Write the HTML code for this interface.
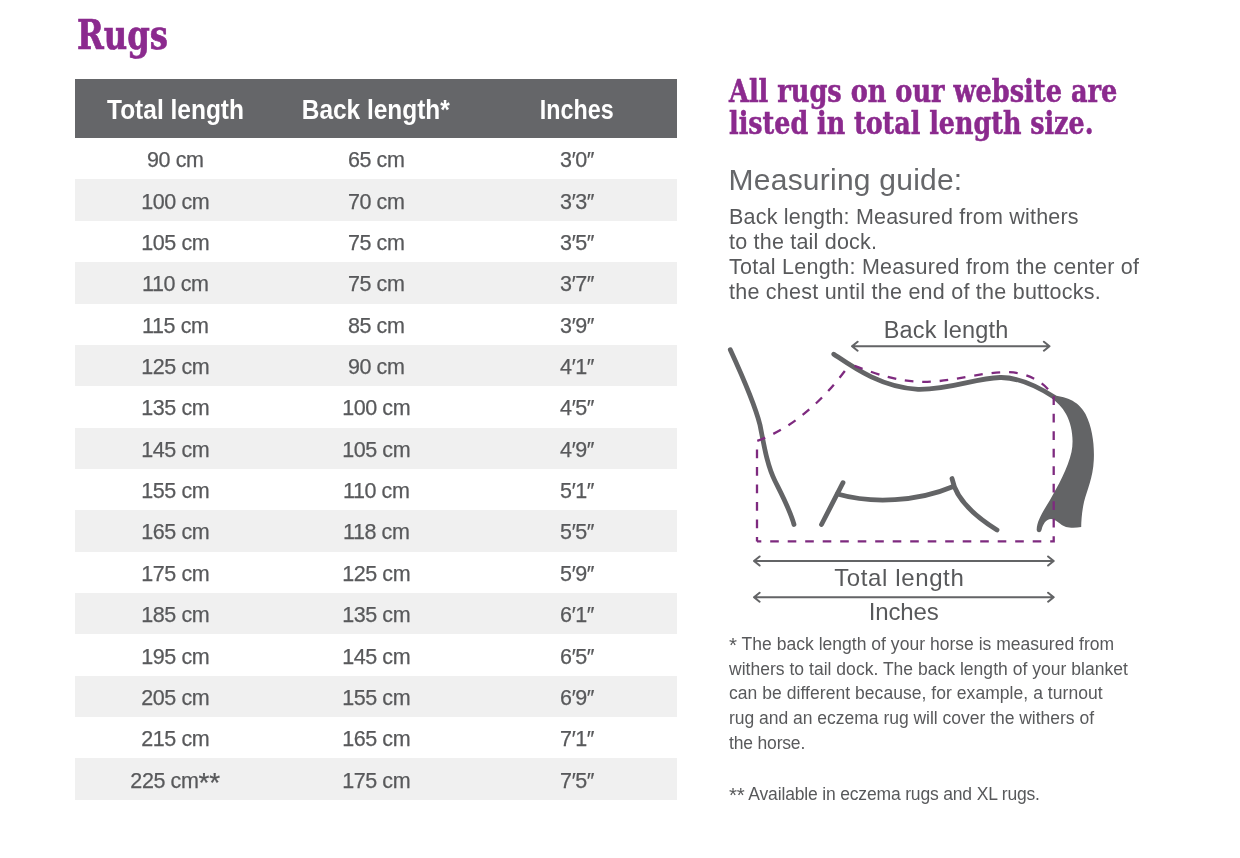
<!DOCTYPE html>
<html lang="en">
<head>
<meta charset="utf-8">
<title>Rugs size chart</title>
<style>
html,body{margin:0;padding:0;background:#fff;}
body{width:1240px;height:858px;position:relative;overflow:hidden;font-family:'Liberation Sans', sans-serif;color:#58595b;}
h1,h2,h3,p{margin:0;font-weight:normal;}
.t{position:absolute;white-space:nowrap;transform-origin:0 50%;display:block;}
.h1{font:bold 41.6px/48px 'DejaVu Serif Condensed', 'DejaVu Serif', 'Liberation Serif', serif;color:#8b2a8e;-webkit-text-stroke:0.7px #8b2a8e;}
.h2{font:bold 31.5px/32px 'DejaVu Serif Condensed', 'DejaVu Serif', 'Liberation Serif', serif;color:#8b2a8e;-webkit-text-stroke:0.5px #8b2a8e;}
.h3{font:normal 30px/34px 'Liberation Sans', sans-serif;color:#66676a;}
.p{font:normal 21.5px/25px 'Liberation Sans', sans-serif;}
.fn{font:normal 17.5px/25px 'Liberation Sans', sans-serif;}
.ast-fn{font-size:20.5px;vertical-align:-2px;}
.ast-td{font-size:28px;vertical-align:-3.8px;letter-spacing:0;}
table.sizes{position:absolute;left:75.4px;top:78.8px;width:601.6px;border-collapse:collapse;border-spacing:0;table-layout:fixed;}
.sizes th,.sizes td{padding:0;text-align:center;vertical-align:top;white-space:nowrap;border:0;}
.sizes thead tr{height:59.3px;background:#656669;}
.sizes th{font:bold 27px/30px 'Liberation Sans', sans-serif;color:#fff;padding-top:16.1px;}
.sizes th span{display:inline-block;}
.sizes tbody tr{height:41.37px;}
.sizes tbody tr:nth-child(even){background:#f0f0f0;}
.sizes td{font:normal 21.5px/24px 'Liberation Sans', sans-serif;letter-spacing:-0.4px;padding-top:10.1px;-webkit-text-stroke:0.25px #58595b;}
.diagram{position:absolute;left:720px;top:310px;}
</style>
</head>
<body>
<h1 class="t h1" style="left:76.80px;top:11.20px;transform:scaleX(0.8623);">Rugs</h1>
<table class="sizes">
<colgroup><col style="width:199.8px"><col style="width:202px"><col style="width:199.8px"></colgroup>
<thead>
<tr>
<th><span style="transform:scaleX(0.9074)">Total length</span></th>
<th><span style="transform:scaleX(0.9049)">Back length*</span></th>
<th><span style="transform:scaleX(0.8627)">Inches</span></th>
</tr>
</thead>
<tbody>
<tr><td>90 cm</td><td>65 cm</td><td>3′0″</td></tr>
<tr><td>100 cm</td><td>70 cm</td><td>3′3″</td></tr>
<tr><td>105 cm</td><td>75 cm</td><td>3′5″</td></tr>
<tr><td>110 cm</td><td>75 cm</td><td>3′7″</td></tr>
<tr><td>115 cm</td><td>85 cm</td><td>3′9″</td></tr>
<tr><td>125 cm</td><td>90 cm</td><td>4′1″</td></tr>
<tr><td>135 cm</td><td>100 cm</td><td>4′5″</td></tr>
<tr><td>145 cm</td><td>105 cm</td><td>4′9″</td></tr>
<tr><td>155 cm</td><td>110 cm</td><td>5′1″</td></tr>
<tr><td>165 cm</td><td>118 cm</td><td>5′5″</td></tr>
<tr><td>175 cm</td><td>125 cm</td><td>5′9″</td></tr>
<tr><td>185 cm</td><td>135 cm</td><td>6′1″</td></tr>
<tr><td>195 cm</td><td>145 cm</td><td>6′5″</td></tr>
<tr><td>205 cm</td><td>155 cm</td><td>6′9″</td></tr>
<tr><td>215 cm</td><td>165 cm</td><td>7′1″</td></tr>
<tr><td>225 cm<span class="ast-td">**</span></td><td>175 cm</td><td>7′5″</td></tr>
</tbody>
</table>
<h2 class="h2"><span class="t" style="left:729.00px;top:74.50px;transform:scaleX(0.9041);">All rugs on our website are</span><span class="t" style="left:729.00px;top:106.90px;transform:scaleX(0.8955);">listed in total length size.</span></h2>
<h3 class="t h3" style="left:728.60px;top:162.90px;letter-spacing:0.230px;">Measuring guide:</h3>
<p class="p"><span class="t" style="left:729.00px;top:204.70px;letter-spacing:0.201px;">Back length: Measured from withers</span><span class="t" style="left:729.00px;top:229.80px;letter-spacing:0.211px;">to the tail dock.</span><span class="t" style="left:729.00px;top:254.90px;letter-spacing:0.271px;">Total Length: Measured from the center of</span><span class="t" style="left:729.00px;top:280.00px;letter-spacing:0.245px;">the chest until the end of the buttocks.</span></p>
<svg class="diagram" width="400" height="325" viewBox="720 310 400 325">
<g fill="none" stroke="#636466" stroke-width="4.8" stroke-linecap="round" stroke-linejoin="round">
<path d="M730.3,349.8 C740.5,372 755,405 760,425 C764,445 767,465 775,481 C783,497 790,510 794,524.5"/>
<path d="M843,482.7 L821.5,524.5"/>
<path d="M837.5,494 C872,504 918,501.5 952.6,486.8"/>
<path d="M952,478.5 C955,495 968,512 997,530"/>
<path d="M833.8,354.2 C850,365 880,387.5 918,389.3 C950,390 975,378 1000,377.5 C1020,377 1040,388 1054,397"/>
</g>
<path fill="#636466" d="M1052,395.5 C1064,396 1078,400 1085.5,414 C1092.5,428 1094.5,445 1093.8,460 C1093,478 1087,490 1084,502 C1082,511 1081.3,520 1081.2,527 C1076,528 1070,528 1066,527 C1060,525 1056,519 1051,519 C1046,519 1043,524 1041.5,530 A2.4,2.4 0 0 1 1036.7,529.5 C1037,520 1044,510 1050,500 C1058,486 1068,468 1071.5,452 C1074,440 1072,425 1066,414 C1062,407 1057,402 1052,398.5 Z"/>
<g fill="none" stroke="#7e2a7f" stroke-width="2.3" stroke-dasharray="8.6 8.9" stroke-dashoffset="4.3">
<path d="M757,541.4 H1053.7 V397 C1047,386 1038,379 1023,374.3 C1008,370 990,373 973.5,375.7 C955,379 937,382.5 919,381.8 C900,381 880,376 850,364"/>
<path d="M757,541.4 V441 Q808.5,422 850,364"/>
</g>
<g fill="none" stroke="#636466" stroke-width="2" stroke-linecap="round" stroke-linejoin="round">
<path d="M852,346.2 H1049.5 M857.6,341.7 L852,346.2 L857.6,350.7 M1043.9,341.7 L1049.5,346.2 L1043.9,350.7"/>
<path d="M754,561 H1053.7 M759.6,556.5 L754,561 L759.6,565.5 M1048.1,556.5 L1053.7,561 L1048.1,565.5"/>
<path d="M754,597.2 H1053.7 M759.6,592.7 L754,597.2 L759.6,601.7 M1048.1,592.7 L1053.7,597.2 L1048.1,601.7"/>
</g>
<g font-family="'Liberation Sans', sans-serif" font-size="24" fill="#58595b" text-anchor="middle">
<text x="946" y="337.5" font-size="23.5" textLength="124.5" lengthAdjust="spacing">Back length</text>
<text x="899" y="585.8" textLength="129.5" lengthAdjust="spacing">Total length</text>
<text x="903.7" y="619.7" textLength="70" lengthAdjust="spacing">Inches</text>
</g>
</svg>
<p class="fn"><span class="t" style="left:729.00px;top:631.70px;letter-spacing:0.023px;"><span class="ast-fn">*</span> The back length of your horse is measured from</span><span class="t" style="left:729.00px;top:656.50px;letter-spacing:0.024px;">withers to tail dock. The back length of your blanket</span><span class="t" style="left:729.00px;top:681.30px;letter-spacing:0.049px;">can be different because, for example, a turnout</span><span class="t" style="left:729.00px;top:706.10px;letter-spacing:-0.016px;">rug and an eczema rug will cover the withers of</span><span class="t" style="left:729.00px;top:730.90px;letter-spacing:-0.170px;">the horse.</span></p>
<p class="fn"><span class="t" style="left:729.00px;top:781.90px;letter-spacing:-0.168px;"><span class="ast-fn">**</span> Available in eczema rugs and XL rugs.</span></p>
</body>
</html>
